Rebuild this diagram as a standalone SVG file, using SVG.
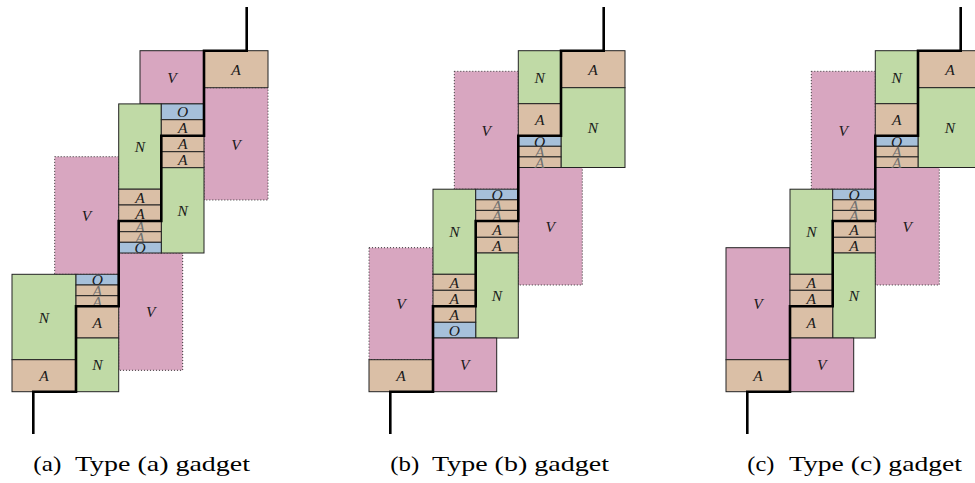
<svg xmlns="http://www.w3.org/2000/svg" width="975" height="483" viewBox="0 0 975 483">
<style>
rect{stroke:#222;stroke-width:1}
.V{fill:#d8a6c0}
.Vd{fill:#d8a6c0;stroke:#333;stroke-dasharray:1 2}
.N{fill:#c0daa6}
.A{fill:#dabfa6}
.O{fill:#a6c0da}
text.l{font-family:"Liberation Serif",serif;font-style:italic;font-size:15.5px;text-anchor:middle;dominant-baseline:central;fill:#1a1a1a}
text.f{fill:#707070}
.thick{fill:none;stroke:#000;stroke-width:2.6;stroke-linejoin:miter}
.cap{font-family:"Liberation Serif",serif;font-size:22px;fill:#000}
</style>
<rect x="0" y="0" width="975" height="483" style="fill:#fff;stroke:none"/>

<!-- Gadget (a) -->
<g id="gadget-a">
  <g id="a-V1"><rect class="Vd" x="204" y="87.7" width="64" height="112.3"/><text class="l" x="236" y="144">V</text></g>
  <g id="a-V2"><rect class="Vd" x="54.7" y="156.7" width="64" height="117.6"/><text class="l" x="86.5" y="215.5">V</text></g>
  <g id="a-V3"><rect class="Vd" x="118.7" y="253" width="64" height="117.3"/><text class="l" x="150.7" y="311.5">V</text></g>
  <g id="a-V0"><rect class="V" x="140" y="50.7" width="64" height="53.2"/><text class="l" x="172" y="77.3">V</text></g>
  <g id="a-A0"><rect class="A" x="204" y="50.7" width="64" height="37"/><text class="l" x="236" y="69.2">A</text></g>
  <g id="a-N1"><rect class="N" x="118.7" y="103.9" width="42.6" height="85.3"/><text class="l" x="140" y="146.5">N</text></g>
  <g id="a-O1"><rect class="O" x="161.3" y="103.9" width="42.7" height="15.8"/><text class="l" x="182.7" y="111.8">O</text></g>
  <g id="a-A1"><rect class="A" x="161.3" y="119.7" width="42.7" height="16"/><text class="l" x="182.7" y="127.7">A</text></g>
  <g id="a-A2"><rect class="A" x="161.3" y="135.7" width="42.7" height="16"/><text class="l" x="182.7" y="143.7">A</text></g>
  <g id="a-A3"><rect class="A" x="161.3" y="151.7" width="42.7" height="16"/><text class="l" x="182.7" y="159.7">A</text></g>
  <g id="a-N2"><rect class="N" x="161.3" y="167.7" width="42.7" height="85.3"/><text class="l" x="182.7" y="210.3">N</text></g>
  <g id="a-A4"><rect class="A" x="118.7" y="189.2" width="42.6" height="15.8"/><text class="l" x="140" y="197.1">A</text></g>
  <g id="a-A5"><rect class="A" x="118.7" y="205" width="42.6" height="16"/><text class="l" x="140" y="213">A</text></g>
  <g id="a-A6"><rect class="A" x="118.7" y="221" width="42.6" height="10.7"/><text class="l f" x="140" y="226.4">A</text></g>
  <g id="a-A7"><rect class="A" x="118.7" y="231.7" width="42.6" height="10.6"/><text class="l f" x="140" y="237">A</text></g>
  <g id="a-O2"><rect class="O" x="118.7" y="242.3" width="42.6" height="10.7"/><text class="l" x="140" y="247.6">O</text></g>
  <g id="a-N3"><rect class="N" x="12" y="274.3" width="64" height="85.4"/><text class="l" x="44" y="317">N</text></g>
  <g id="a-O3"><rect class="O" x="76" y="274.3" width="42.7" height="10.7"/><text class="l" x="97.3" y="279.6">O</text></g>
  <g id="a-A8"><rect class="A" x="76" y="285" width="42.7" height="10.7"/><text class="l f" x="97.3" y="290.3">A</text></g>
  <g id="a-A9"><rect class="A" x="76" y="295.7" width="42.7" height="10.6"/><text class="l f" x="97.3" y="301">A</text></g>
  <g id="a-A10"><rect class="A" x="76" y="306.3" width="42.7" height="31.7"/><text class="l" x="97.3" y="322.2">A</text></g>
  <g id="a-N4"><rect class="N" x="76" y="338" width="42.7" height="53.7"/><text class="l" x="97.3" y="364.8">N</text></g>
  <g id="a-A11"><rect class="A" x="12" y="359.7" width="64" height="32"/><text class="l" x="44" y="375.7">A</text></g>
</g>

<!-- Gadget (b) -->
<g id="gadget-b" transform="translate(357,0)">
  <g id="b-V1"><rect class="Vd" x="97.3" y="71.3" width="64" height="117.9"/><text class="l" x="129.3" y="130.2">V</text></g>
  <g id="b-V2"><rect class="Vd" x="161.3" y="167.5" width="64" height="117.5"/><text class="l" x="193.3" y="226.3">V</text></g>
  <g id="b-V3"><rect class="Vd" x="12" y="247.7" width="64" height="112"/><text class="l" x="44" y="303.7">V</text></g>
  <g id="b-N0"><rect class="N" x="161.3" y="50.7" width="42.7" height="53"/><text class="l" x="182.7" y="77.2">N</text></g>
  <g id="b-A0"><rect class="A" x="204" y="50.7" width="64" height="37"/><text class="l" x="236" y="69.2">A</text></g>
  <g id="b-N1"><rect class="N" x="204" y="87.7" width="64" height="79.8"/><text class="l" x="236" y="127.6">N</text></g>
  <g id="b-A1"><rect class="A" x="161.3" y="103.7" width="42.7" height="32"/><text class="l" x="182.7" y="119.7">A</text></g>
  <g id="b-O1"><rect class="O" x="161.3" y="135.7" width="42.7" height="10.6"/><text class="l" x="182.7" y="141">O</text></g>
  <g id="b-A2"><rect class="A" x="161.3" y="146.3" width="42.7" height="10.6"/><text class="l f" x="182.7" y="151.6">A</text></g>
  <g id="b-A3"><rect class="A" x="161.3" y="156.9" width="42.7" height="10.6"/><text class="l f" x="182.7" y="162.2">A</text></g>
  <g id="b-N2"><rect class="N" x="76" y="189.2" width="42.7" height="85.1"/><text class="l" x="97.3" y="231.7">N</text></g>
  <g id="b-O2"><rect class="O" x="118.7" y="189.2" width="42.6" height="10.6"/><text class="l" x="140" y="194.5">O</text></g>
  <g id="b-A4"><rect class="A" x="118.7" y="199.8" width="42.6" height="10.6"/><text class="l f" x="140" y="205.1">A</text></g>
  <g id="b-A5"><rect class="A" x="118.7" y="210.4" width="42.6" height="10.6"/><text class="l f" x="140" y="215.7">A</text></g>
  <g id="b-A6"><rect class="A" x="118.7" y="221" width="42.6" height="16.3"/><text class="l" x="140" y="229.2">A</text></g>
  <g id="b-A7"><rect class="A" x="118.7" y="237.3" width="42.6" height="15.7"/><text class="l" x="140" y="245.2">A</text></g>
  <g id="b-N3"><rect class="N" x="118.7" y="253" width="42.6" height="85"/><text class="l" x="140" y="295.5">N</text></g>
  <g id="b-A8"><rect class="A" x="76" y="274.3" width="42.7" height="16"/><text class="l" x="97.3" y="282.3">A</text></g>
  <g id="b-A9"><rect class="A" x="76" y="290.3" width="42.7" height="16"/><text class="l" x="97.3" y="298.3">A</text></g>
  <g id="b-A10"><rect class="A" x="76" y="306.3" width="42.7" height="16"/><text class="l" x="97.3" y="314.3">A</text></g>
  <g id="b-O3"><rect class="O" x="76" y="322.3" width="42.7" height="15.7"/><text class="l" x="97.3" y="330.2">O</text></g>
  <g id="b-V4"><rect class="V" x="76" y="338" width="63.7" height="53.7"/><text class="l" x="107.8" y="364.8">V</text></g>
  <g id="b-A11"><rect class="A" x="12" y="359.7" width="64" height="32"/><text class="l" x="44" y="375.7">A</text></g>
</g>

<!-- Gadget (c) -->
<g id="gadget-c" transform="translate(714,0)">
  <g id="c-V1"><rect class="Vd" x="97.3" y="71.3" width="64" height="117.9"/><text class="l" x="129.3" y="130.2">V</text></g>
  <g id="c-V2"><rect class="Vd" x="161.3" y="167.5" width="64" height="117.5"/><text class="l" x="193.3" y="226.3">V</text></g>
  <g id="c-V3"><rect class="V" x="12" y="247.7" width="64" height="112"/><text class="l" x="44" y="303.7">V</text></g>
  <g id="c-N0"><rect class="N" x="161.3" y="50.7" width="42.7" height="53"/><text class="l" x="182.7" y="77.2">N</text></g>
  <g id="c-A0"><rect class="A" x="204" y="50.7" width="64" height="37"/><text class="l" x="236" y="69.2">A</text></g>
  <g id="c-N1"><rect class="N" x="204" y="87.7" width="64" height="79.8"/><text class="l" x="236" y="127.6">N</text></g>
  <g id="c-A1"><rect class="A" x="161.3" y="103.7" width="42.7" height="32"/><text class="l" x="182.7" y="119.7">A</text></g>
  <g id="c-O1"><rect class="O" x="161.3" y="135.7" width="42.7" height="10.6"/><text class="l" x="182.7" y="141">O</text></g>
  <g id="c-A2"><rect class="A" x="161.3" y="146.3" width="42.7" height="10.6"/><text class="l f" x="182.7" y="151.6">A</text></g>
  <g id="c-A3"><rect class="A" x="161.3" y="156.9" width="42.7" height="10.6"/><text class="l f" x="182.7" y="162.2">A</text></g>
  <g id="c-N2"><rect class="N" x="76" y="189.2" width="42.7" height="85.1"/><text class="l" x="97.3" y="231.7">N</text></g>
  <g id="c-O2"><rect class="O" x="118.7" y="189.2" width="42.6" height="10.6"/><text class="l" x="140" y="194.5">O</text></g>
  <g id="c-A4"><rect class="A" x="118.7" y="199.8" width="42.6" height="10.6"/><text class="l f" x="140" y="205.1">A</text></g>
  <g id="c-A5"><rect class="A" x="118.7" y="210.4" width="42.6" height="10.6"/><text class="l f" x="140" y="215.7">A</text></g>
  <g id="c-A6"><rect class="A" x="118.7" y="221" width="42.6" height="16.3"/><text class="l" x="140" y="229.2">A</text></g>
  <g id="c-A7"><rect class="A" x="118.7" y="237.3" width="42.6" height="15.7"/><text class="l" x="140" y="245.2">A</text></g>
  <g id="c-N3"><rect class="N" x="118.7" y="253" width="42.6" height="85"/><text class="l" x="140" y="295.5">N</text></g>
  <g id="c-A8"><rect class="A" x="76" y="274.3" width="42.7" height="16"/><text class="l" x="97.3" y="282.3">A</text></g>
  <g id="c-A9"><rect class="A" x="76" y="290.3" width="42.7" height="16"/><text class="l" x="97.3" y="298.3">A</text></g>
  <g id="c-A10"><rect class="A" x="76" y="306.3" width="42.7" height="31.7"/><text class="l" x="97.3" y="322.2">A</text></g>
  <g id="c-V4"><rect class="V" x="76" y="338" width="63.7" height="53.7"/><text class="l" x="107.8" y="364.8">V</text></g>
  <g id="c-A11"><rect class="A" x="12" y="359.7" width="64" height="32"/><text class="l" x="44" y="375.7">A</text></g>
</g>

<!-- Connectors (thick paths) -->
<g id="connectors">
  <path class="thick" d="M33.3,434 V391.7 H76 V306.3 H118.7 V221 H161.3 V135.7 H204 V50.7 H246.7 V7"/>
  <path class="thick" transform="translate(357,0)" d="M33.3,434 V391.7 H76 V306.3 H118.7 V221 H161.3 V135.7 H204 V50.7 H246.7 V7"/>
  <path class="thick" transform="translate(714,0)" d="M33.3,434 V391.7 H76 V306.3 H118.7 V221 H161.3 V135.7 H204 V50.7 H246.7 V7"/>
</g>

<!-- Captions -->
<g id="captions">
  <text class="cap" x="33.3" y="470.5" textLength="28" lengthAdjust="spacingAndGlyphs">(a)</text>
  <text class="cap" x="75" y="470.5" textLength="175" lengthAdjust="spacingAndGlyphs">Type (a) gadget</text>
  <text class="cap" x="390.3" y="470.5" textLength="29" lengthAdjust="spacingAndGlyphs">(b)</text>
  <text class="cap" x="432" y="470.5" textLength="177" lengthAdjust="spacingAndGlyphs">Type (b) gadget</text>
  <text class="cap" x="747.3" y="470.5" textLength="27" lengthAdjust="spacingAndGlyphs">(c)</text>
  <text class="cap" x="789" y="470.5" textLength="173" lengthAdjust="spacingAndGlyphs">Type (c) gadget</text>
</g>
</svg>
